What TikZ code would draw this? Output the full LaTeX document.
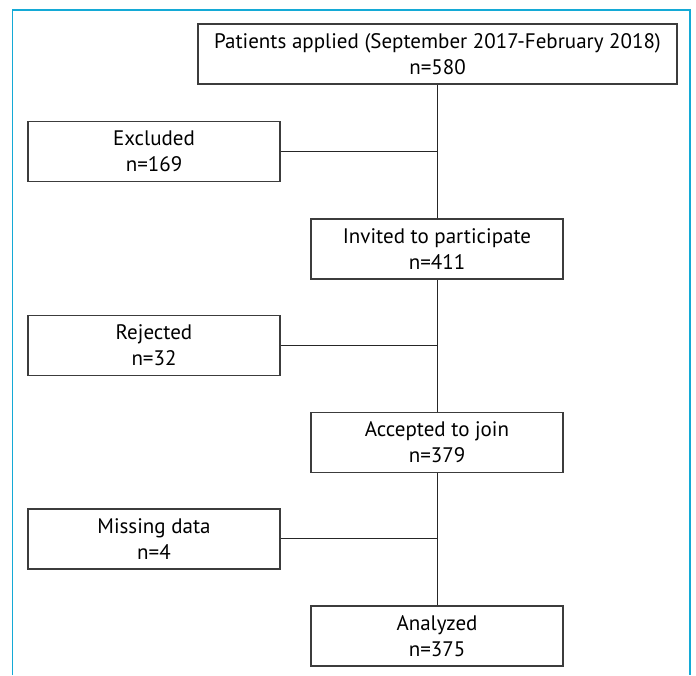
\documentclass[tikz,border=0pt]{standalone}
\usepackage{fontspec}
\setmainfont{PT Sans}
\definecolor{framecol}{RGB}{20,170,214}
\definecolor{boxline}{RGB}{60,60,60}
\tikzset{
  flowbox/.style={draw=boxline, line width=1.1pt, rectangle, minimum height=60pt, inner sep=2pt, align=center, font=\fontsize{21}{26}\selectfont},
  narrowbox/.style={flowbox, minimum width=252pt},
  widebox/.style={flowbox, minimum width=479pt},
  link/.style={draw=black!85, line width=1pt},
  framestyle/.style={draw=framecol, line width=1.2pt}
}
\begin{document}
\begin{tikzpicture}[x=1pt,y=1pt]
\useasboundingbox (0,0) rectangle (696,675);
\draw[framestyle] (12.5,0) -- (12.5,665) -- (690,665) -- (690,0);

\node[widebox] (apply) at (437.5,621) {Patients applied (September 2017-February 2018)\\n=580};
\node[narrowbox] (excl) at (154,523.5) {Excluded\\n=169};
\node[narrowbox] (invite) at (437,426) {Invited to participate\\n=411};
\node[narrowbox] (rej) at (154,329.5) {Rejected\\n=32};
\node[narrowbox] (acc) at (437,232.5) {Accepted to join\\n=379};
\node[narrowbox] (miss) at (154,136) {Missing data\\n=4};
\node[narrowbox] (ana) at (437,39) {Analyzed\\n=375};

\coordinate (j1) at (437,523.5);
\coordinate (j2) at (437,329.5);
\coordinate (j3) at (437,136);

\draw[link] (invite.north) -- (invite.north |- apply.south);
\draw[link] (acc.north) -- (invite.south);
\draw[link] (ana.north) -- (acc.south);
\draw[link] (excl.east) -- (j1);
\draw[link] (rej.east) -- (j2);
\draw[link] (miss.east) -- (j3);
\end{tikzpicture}
\end{document}
